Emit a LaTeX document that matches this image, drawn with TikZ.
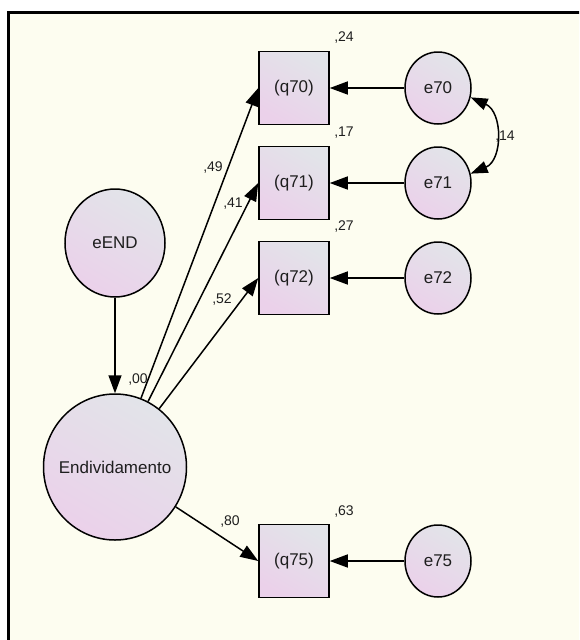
\documentclass[tikz,border=0pt]{standalone}
\usepackage{fontspec}
\setmainfont{Liberation Sans}
\usetikzlibrary{arrows.meta,shapes.geometric}
\definecolor{paper}{HTML}{FDFDF0}
\definecolor{shadeA}{HTML}{E2E4E9}
\definecolor{shadeB}{HTML}{EBD1EA}
\definecolor{ink}{HTML}{1E1E1E}
\tikzset{
  varfill/.style={shading=axis, top color=shadeA, bottom color=shadeB, shading angle=-30},
  vartext/.style={font=\fontsize{17}{20}\selectfont, text=ink},
  obsvar/.style={draw=black, line width=1.5pt, varfill, rectangle,
    minimum width=70pt, minimum height=73pt, inner sep=0pt, vartext},
  errvar/.style={draw=black, line width=1.5pt, varfill, ellipse,
    minimum width=66pt, minimum height=72pt, inner sep=0pt, vartext},
  latvar/.style={draw=black, line width=1.5pt, varfill, ellipse, inner sep=0pt},
  path/.style={draw=black, line width=1.5pt, -{Triangle[length=18pt,width=13pt]}},
  covpath/.style={draw=black, line width=1.5pt,
    {Triangle[length=17pt,width=12pt]}-{Triangle[length=17pt,width=12pt]}},
  est/.style={font=\fontsize{14}{16}\selectfont, text=ink, inner sep=0pt}
}
\begin{document}
\begin{tikzpicture}[x=1pt,y=-1pt]
  \useasboundingbox (0,0) rectangle (579,640);
  \clip (0,0) rectangle (579,640);
  \fill[white] (0,0) rectangle (579,640);
  % canvas with its dark frame
  \filldraw[fill=paper, draw=black, line width=3pt] (8.5,12.5) rectangle (600,660);

  % observed indicators
  \node[obsvar] (q70) at (294,88) {(q70)};
  \node[obsvar] (q71) at (294,183) {(q71)};
  \node[obsvar] (q72) at (294,278) {(q72)};
  \node[obsvar] (q75) at (294,561) {(q75)};

  % error terms
  \node[errvar] (e70) at (438,88) {e70};
  \node[errvar] (e71) at (438,183) {e71};
  \node[errvar] (e72) at (438,278) {e72};
  \node[errvar] (e75) at (438,561) {e75};

  % latent variable and its disturbance (text set as a centred label so the
  % outline keeps its own size)
  \node[latvar, minimum width=100pt, minimum height=108pt,
        label={[vartext]center:eEND}] (eEND) at (115,243) {};
  \node[latvar, minimum width=143pt, minimum height=146pt,
        label={[vartext]center:Endividamento}] (end) at (115,467) {};

  % regression paths
  \draw[path] (eEND) -- (end);
  \draw[path] (end) -- (q70.west);
  \draw[path] (end) -- (q71.west);
  \draw[path] (end) -- (q72.west);
  \draw[path] (end) -- (q75.west);
  \draw[path] (e70) -- (q70);
  \draw[path] (e71) -- (q71);
  \draw[path] (e72) -- (q72);
  \draw[path] (e75) -- (q75);

  % error covariance
  \draw[covpath] (e70.-16) .. controls (503,112) and (503,160) .. (e71.16);

  % estimates
  \node[est] (r70) at (344,38) {,24};
  \node[est] (r71) at (344,133) {,17};
  \node[est] (r72) at (344,227) {,27};
  \node[est] (r75) at (344,512) {,63};
  \node[est] (l70) at (213,168) {,49};
  \node[est] (l71) at (233,204) {,41};
  \node[est] (l72) at (222,300) {,52};
  \node[est] (l75) at (230,522) {,80};
  \node[est] (r0) at (138,380) {,00};
  \node[est] (c14) at (505,137) {,14};
\end{tikzpicture}
\end{document}
